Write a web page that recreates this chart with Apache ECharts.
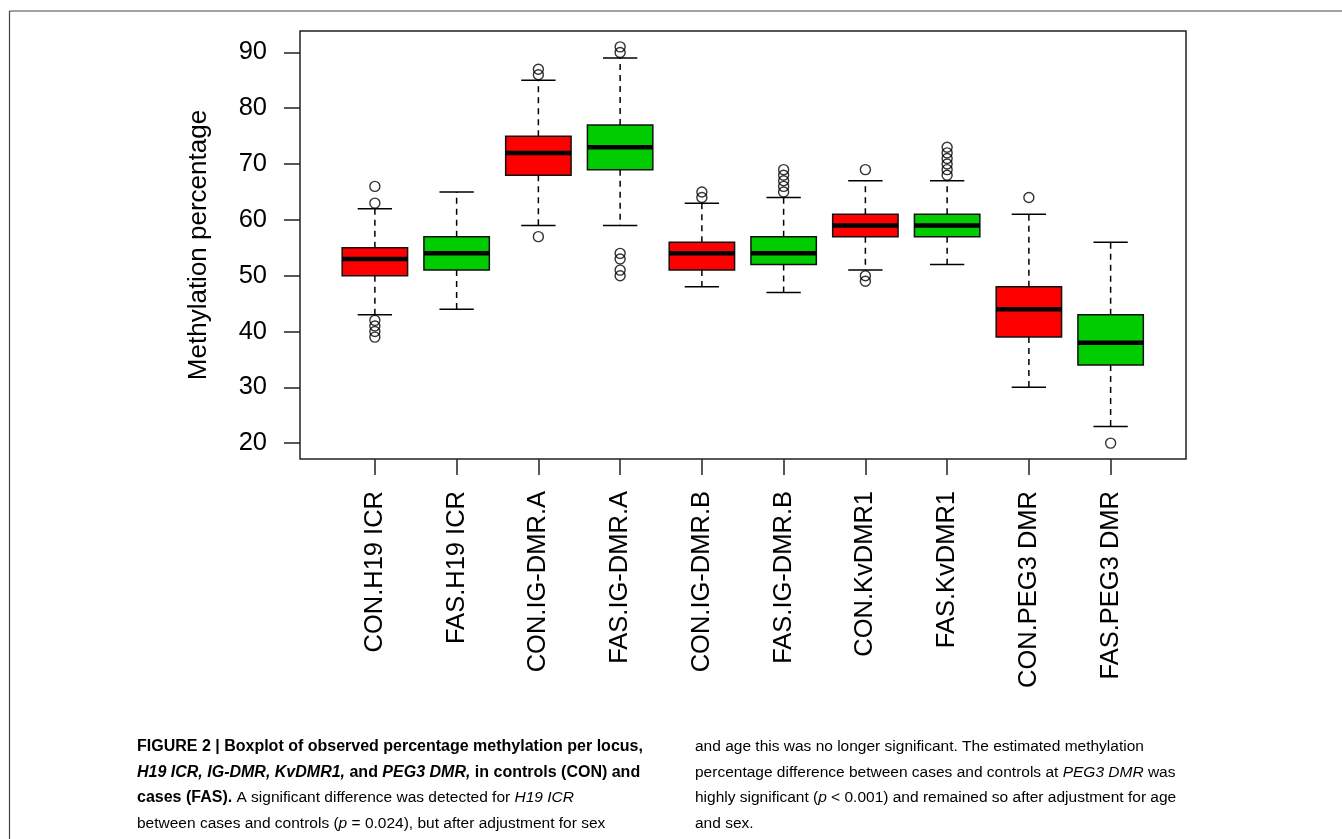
<!DOCTYPE html>
<html>
<head>
<meta charset="utf-8">
<script src="https://cdn.jsdelivr.net/npm/echarts@6/dist/echarts.min.js"></script>
<style>
html,body{margin:0;padding:0;background:#fff;}
#chart{width:1342px;height:839px;}
</style>
</head>
<body>
<div id="chart"></div>
<script>
// ---- data ----
const categories = ['CON.H19 ICR','FAS.H19 ICR','CON.IG-DMR.A','FAS.IG-DMR.A','CON.IG-DMR.B','FAS.IG-DMR.B','CON.KvDMR1','FAS.KvDMR1','CON.PEG3 DMR','FAS.PEG3 DMR'];
// [lower whisker, Q1, median, Q3, upper whisker]
const whiskerLow  = [43, 44, 59, 59, 48, 47, 51, 52, 30, 23];
const q1Values    = [50, 51, 68, 69, 51, 52, 57, 57, 39, 34];
const medianValues= [53, 54, 72, 73, 54, 54, 59, 59, 44, 38];
const q3Values    = [55, 57, 75, 77, 56, 57, 61, 61, 48, 43];
const whiskerHigh = [62, 65, 85, 89, 63, 64, 67, 67, 61, 56];
const outlierValues = [
  [66, 63, 42, 41, 40, 39],
  [],
  [87, 86, 57],
  [91, 90, 54, 53, 51, 50],
  [65, 64],
  [69, 68, 67, 66, 65],
  [69, 50, 49],
  [73, 72, 71, 70, 69, 68],
  [64],
  [20]
];
const yTickValues = [20, 30, 40, 50, 60, 70, 80, 90];
const yTitle = 'Methylation percentage';
const groupColors = { CON: '#FF0000', FAS: '#00CC00' };

// ---- build ----
const boxData = categories.map((c, i) => [i, whiskerLow[i], q1Values[i], medianValues[i], q3Values[i], whiskerHigh[i]]);
const outlierData = [];
outlierValues.forEach((arr, i) => arr.forEach(v => outlierData.push([i, v])));

const FONT = 'Liberation Sans, Arial, sans-serif';
const chart = echarts.init(document.getElementById('chart'), null, { renderer: 'canvas' });

function renderBox(params, api) {
  const i = api.value(0);
  const lo = api.coord([i, api.value(1)]);
  const q1 = api.coord([i, api.value(2)]);
  const md = api.coord([i, api.value(3)]);
  const q3 = api.coord([i, api.value(4)]);
  const hi = api.coord([i, api.value(5)]);
  const band = api.size([1, 0])[0];
  const half = band * 0.4;
  const cap = band * 0.21;
  const x = md[0];
  const name = categories[i];
  const fill = groupColors[name.split('.')[0]];
  const lineStyle = { stroke: '#000', lineWidth: 1.5, lineDash: [6, 5] };
  const solid = { stroke: '#000', lineWidth: 1.5 };
  return {
    type: 'group',
    children: [
      { type: 'line', shape: { x1: x, y1: q3[1], x2: x, y2: hi[1] }, style: lineStyle },
      { type: 'line', shape: { x1: x, y1: q1[1], x2: x, y2: lo[1] }, style: lineStyle },
      { type: 'line', shape: { x1: x - cap, y1: hi[1], x2: x + cap, y2: hi[1] }, style: solid },
      { type: 'line', shape: { x1: x - cap, y1: lo[1], x2: x + cap, y2: lo[1] }, style: solid },
      { type: 'rect', shape: { x: x - half, y: q3[1], width: half * 2, height: q1[1] - q3[1] },
        style: { fill: fill, stroke: '#111', lineWidth: 1.5 } },
      { type: 'line', shape: { x1: x - half, y1: md[1], x2: x + half, y2: md[1] },
        style: { stroke: '#000', lineWidth: 4.5 } }
    ]
  };
}

const captionLeft =
  '{b|FIGURE 2 | Boxplot of observed percentage methylation per locus,}\n' +
  '{bi|H19 ICR, IG-DMR, KvDMR1,}{b| and }{bi|PEG3 DMR,}{b| in controls (CON) and}\n' +
  '{b|cases (FAS).}{r| A significant difference was detected for }{i|H19 ICR}\n' +
  '{r|between cases and controls (}{i|p}{r| = 0.024), but after adjustment for sex}';
const captionRight =
  '{r|and age this was no longer significant. The estimated methylation}\n' +
  '{r|percentage difference between cases and controls at }{i|PEG3 DMR}{r| was}\n' +
  '{r|highly significant (}{i|p}{r| < 0.001) and remained so after adjustment for age}\n' +
  '{r|and sex.}';
const CAP_B = 16, CAP_R = 15.5, CAP_LH = 25.5;
const rich = {
  b:  { fontFamily: FONT, fontSize: CAP_B, fontWeight: 'bold', color: '#231f20', lineHeight: CAP_LH },
  bi: { fontFamily: FONT, fontSize: CAP_B, fontWeight: 'bold', fontStyle: 'italic', color: '#231f20', lineHeight: CAP_LH },
  r:  { fontFamily: FONT, fontSize: CAP_R, color: '#444', lineHeight: CAP_LH },
  i:  { fontFamily: FONT, fontSize: CAP_R, fontStyle: 'italic', color: '#444', lineHeight: CAP_LH }
};

const option = {
  backgroundColor: '#fff',
  animation: false,
  grid: [
    { left: 300, top: 31, width: 886, height: 428, show: true, borderColor: '#222', borderWidth: 1.5, backgroundColor: 'transparent' },
    { left: 334, top: 31, width: 817.5, height: 428 }
  ],
  xAxis: [
    { gridIndex: 0, type: 'value', show: false, min: 0, max: 1 },
    {
      gridIndex: 1, type: 'category', data: categories, boundaryGap: true,
      axisLine: { show: false },
      axisTick: { show: true, alignWithLabel: true, length: 16, lineStyle: { color: '#222', width: 1.5 } },
      axisLabel: { rotate: 90, margin: 32, fontSize: 25.5, fontFamily: FONT, color: '#000', interval: 0 },
      splitLine: { show: false }
    }
  ],
  yAxis: [
    { gridIndex: 0, type: 'value', show: false, min: 0, max: 1 },
    {
      gridIndex: 1, type: 'value', min: 17.16, max: 93.84, offset: 34,
      name: yTitle, nameLocation: 'middle', nameGap: 88, nameRotate: 90,
      nameTextStyle: { fontSize: 26, fontFamily: FONT, color: '#000' },
      axisLine: { show: false },
      axisTick: { show: true, length: 16, customValues: yTickValues, lineStyle: { color: '#222', width: 1.5 } },
      axisLabel: { margin: 33, fontSize: 25.5, fontFamily: FONT, color: '#000', customValues: yTickValues },
      splitLine: { show: false }
    }
  ],
  series: [
    {
      type: 'custom', xAxisIndex: 1, yAxisIndex: 1,
      renderItem: renderBox,
      encode: { x: 0, y: [1, 2, 3, 4, 5] },
      data: boxData,
      z: 2
    },
    {
      type: 'scatter', xAxisIndex: 1, yAxisIndex: 1,
      symbol: 'circle', symbolSize: 10,
      itemStyle: { color: 'rgba(255,255,255,0)', borderColor: '#000', borderWidth: 1.4 },
      data: outlierData,
      z: 3
    }
  ],
  graphic: [
    { type: 'line', shape: { x1: 9.5, y1: 11, x2: 1342, y2: 11 }, style: { stroke: '#444', lineWidth: 1.2 } },
    { type: 'line', shape: { x1: 9.5, y1: 11, x2: 9.5, y2: 839 }, style: { stroke: '#444', lineWidth: 1.2 } },
    { type: 'text', left: 137, top: 739, style: { text: captionLeft, rich: rich } },
    { type: 'text', left: 695, top: 739, style: { text: captionRight, rich: rich } }
  ]
};
chart.setOption(option);
</script>
</body>
</html>
